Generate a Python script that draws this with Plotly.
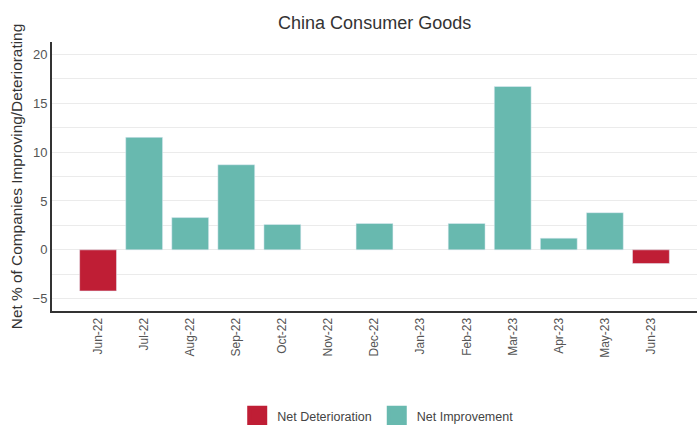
import plotly.graph_objects as go

# Monthly net balance of companies reporting improving vs deteriorating conditions
months = ["Jun-22", "Jul-22", "Aug-22", "Sep-22", "Oct-22", "Nov-22", "Dec-22",
          "Jan-23", "Feb-23", "Mar-23", "Apr-23", "May-23", "Jun-23"]
net_values = [-4.2, 11.5, 3.3, 8.7, 2.6, 0.0, 2.7, 0.0, 2.7, 16.7, 1.2, 3.8, -1.4]

deterioration = [v if v < 0 else None for v in net_values]
improvement = [v if v > 0 else None for v in net_values]

RED = "#BF1E35"
TEAL = "#68B9AF"
FONT = "Liberation Sans, Arial, sans-serif"

fig = go.Figure()
fig.add_trace(go.Bar(x=months, y=deterioration, marker_color=RED,
                     showlegend=False, hoverinfo="x+y"))
fig.add_trace(go.Bar(x=months, y=improvement, marker_color=TEAL,
                     showlegend=False, hoverinfo="x+y"))

# Legend entries with larger square swatches
for name, col in [("Net Deterioration", RED), ("Net Improvement", TEAL)]:
    fig.add_trace(go.Scatter(x=[None], y=[None], mode="markers", name=name,
                             marker=dict(symbol="square", size=16, color=col,
                                         line=dict(color=col, width=4))))

fig.update_layout(
    width=697, height=425,
    margin=dict(l=52, r=0, t=42, b=114, autoexpand=False),
    paper_bgcolor="white", plot_bgcolor="white",
    font=dict(family=FONT, color="#444"),
    barmode="relative", bargap=0.2,
    title=dict(text="China Consumer Goods", x=0.5375, xanchor="center",
               y=1 - 23 / 425, yanchor="middle",
               font=dict(size=18, color="#333", family=FONT)),
    legend=dict(orientation="h", x=0.505, xanchor="center",
                yref="container", y=1 - 416 / 425, yanchor="middle",
                font=dict(size=12.5, color="#444"), itemclick=False),
    xaxis=dict(type="category", range=[-1, 13], tickangle=-90,
               tickfont=dict(size=12, color="#555"),
               showline=True, linecolor="#333", linewidth=2,
               showgrid=False, ticks=""),
    yaxis=dict(range=[-6.25, 21.25], dtick=5, tick0=0,
               tickfont=dict(size=13, color="#555"),
               title=dict(text="Net % of Companies Improving/Deteriorating",
                          font=dict(size=15.4, color="#333"), standoff=6),
               showline=True, linecolor="#333", linewidth=2,
               showgrid=True, gridcolor="#EBEBEB", gridwidth=1,
               minor=dict(dtick=2.5, tick0=0, showgrid=True,
                          gridcolor="#EBEBEB", gridwidth=1),
               zeroline=False, ticks=""),
)

fig.write_html("out.html")
